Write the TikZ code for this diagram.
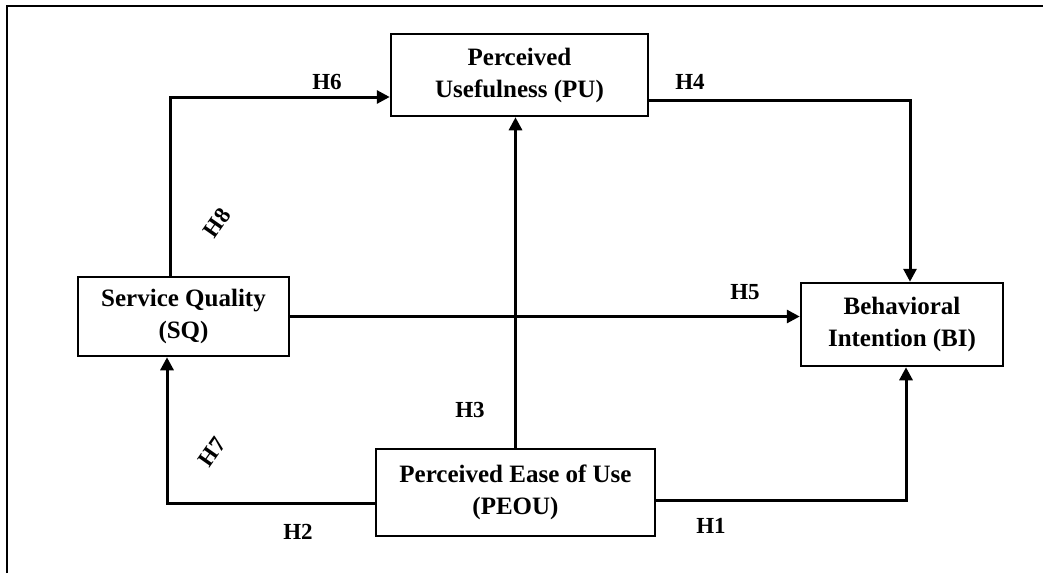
\documentclass[tikz,border=0pt]{standalone}
\usepackage{fontspec}
\setmainfont{Liberation Serif}
\usetikzlibrary{arrows.meta}
\tikzset{
  box/.style={draw, line width=2.5pt, align=center, inner sep=0pt,
    font=\bfseries\fontsize{25}{32}\selectfont},
  arr/.style={line width=3pt, -{Triangle[length=13pt,width=13pt]}},
  hlab/.style={font=\bfseries\fontsize{23}{28}\selectfont, inner sep=0pt},
  frame/.style={line width=2pt}
}
\begin{document}
\begin{tikzpicture}[x=1pt,y=-1pt]
\useasboundingbox (0,0) rectangle (1043,573);
\coordinate (f1) at (7,573);
\coordinate (f2) at (7,6);
\coordinate (f3) at (1043,6);
\draw[frame] (f1) -- (f2) -- (f3);

\node[box, minimum width=257pt, minimum height=82pt] (pu) at (519.5,75) {Perceived\\Usefulness (PU)};
\node[box, minimum width=211pt, minimum height=79pt] (sq) at (183.5,316.5) {Service Quality\\(SQ)};
\node[box, minimum width=279pt, minimum height=87pt] (peou) at (515.5,492.5) {Perceived Ease of Use\\(PEOU)};
\node[box, minimum width=202pt, minimum height=83pt] (bi) at (902,324.5) {Behavioral\\Intention (BI)};

\draw[arr] ([xshift=-13.5pt]sq.north) |- ([yshift=-22pt]pu.west);
\draw[arr] ([yshift=-25pt]pu.east) -| ([xshift=8pt]bi.north);
\draw[arr] (peou.north) -- (peou.north |- pu.south);
\draw[arr] (sq.east) -- (sq.east -| bi.west);
\draw[arr] ([yshift=-10.5pt]peou.west) -| ([xshift=-16.5pt]sq.south);
\draw[arr] ([yshift=-7.5pt]peou.east) -| ([xshift=4pt]bi.south);

\node[hlab] (h6) at (327,82) {H6};
\node[hlab] (h4) at (690,82) {H4};
\node[hlab, rotate=55] (h8) at (217,223) {H8};
\node[hlab] (h5) at (745,292) {H5};
\node[hlab] (h3) at (470,410) {H3};
\node[hlab, rotate=55] (h7) at (212,452) {H7};
\node[hlab] (h2) at (298,532) {H2};
\node[hlab] (h1) at (711,526) {H1};
\end{tikzpicture}
\end{document}
